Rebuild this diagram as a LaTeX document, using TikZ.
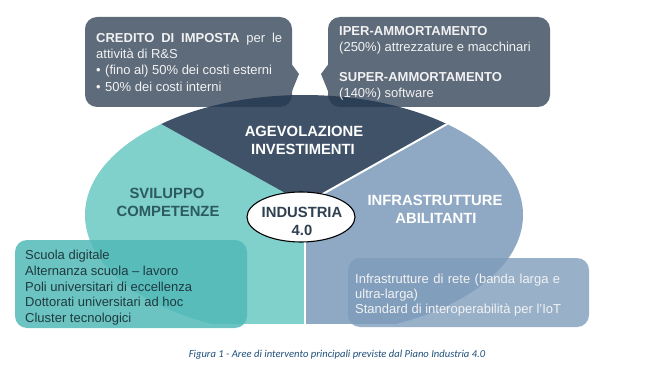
\documentclass[tikz,border=0pt]{standalone}
\usepackage{fontspec}
\setmainfont{Liberation Sans}
\newfontfamily\capfont{Carlito}
\usetikzlibrary{shapes.geometric}
\definecolor{tealS}{HTML}{80D0CC}
\definecolor{blueS}{HTML}{8FA9C4}
\definecolor{darkS}{HTML}{253A53}
\definecolor{calloutC}{HTML}{5E6B7B}
\definecolor{tealBox}{HTML}{52BAB7}
\definecolor{blueBox}{HTML}{7F9CBC}
\definecolor{tealTxt}{HTML}{2C5A61}
\definecolor{indTxt}{HTML}{2F4050}
\definecolor{boxTxt}{HTML}{1E3A40}
\definecolor{capC}{HTML}{1F4E79}
\tikzset{
  calloutbox/.style={fill=calloutC},
  body/.style={inner sep=0pt, anchor=base west, font=\fontsize{13}{15}\selectfont},
  whitetxt/.style={body, text=white!95!black},
  label/.style={inner sep=0pt, anchor=base, font=\fontsize{14.8}{17}\selectfont\bfseries},
  sep/.style={draw=white, line width=2pt}
}
\begin{document}
\begin{tikzpicture}[x=1pt,y=-1pt]
\useasboundingbox (0,0) rectangle (669,374);
% callouts
\fill[calloutbox, rounded corners=12pt] (85,17) rectangle (292,107);
\fill[calloutbox] (290,62) -- (299,74) -- (290,96) -- cycle;
\fill[calloutbox, rounded corners=12pt] (328,17) rectangle (550,107);
\fill[calloutbox] (330,62) -- (321,74) -- (330,96) -- cycle;
% big ellipse sectors
\begin{scope}
  \clip (304,215) ellipse [x radius=219, y radius=120];
  \clip (0,0) rectangle (669,323);
  \fill[tealS] (305,204) -- (23,47) -- (0,47) -- (0,400) -- (305,400) -- cycle;
  \fill[blueS] (305,204) -- (589,44) -- (700,44) -- (700,400) -- (305,400) -- cycle;
  \fill[darkS, fill opacity=0.88] (305,204) -- (23,47) -- (23,0) -- (600,0) -- (589,44) -- cycle;
  \coordinate (apex) at (305,204);
  \coordinate (rEnd) at (589,44);
  \coordinate (bEnd) at (305,400);
  \draw[sep] (apex) -- (rEnd);
  \draw[sep] (apex) -- (bEnd);
\end{scope}
% bottom boxes
\fill[tealBox, fill opacity=0.85, rounded corners=12pt] (15,240) rectangle (247,328);
\fill[blueBox, fill opacity=0.8, rounded corners=12pt] (348,258) rectangle (589,327);
% center ellipse
\node[ellipse, draw=black, line width=1.1pt, fill=white, minimum width=108pt, minimum height=50pt, inner sep=0pt] (ind) at (301,217) {};
\node[label, text=indTxt] (ind1) at (302,218) {INDUSTRIA};
\node[label, text=indTxt] (ind2) at (302,235) {4.0};
% sector labels
\node[label, text=white] (ag1) at (304,137) {AGEVOLAZIONE};
\node[label, text=white] (ag2) at (303,155) {INVESTIMENTI};
\node[label, text=tealTxt] (sv1) at (167,199) {SVILUPPO};
\node[label, text=tealTxt] (sv2) at (168,217) {COMPETENZE};
\node[label, text=white] (in1) at (435,206) {INFRASTRUTTURE};
\node[label, text=white] (in2) at (436,223) {ABILITANTI};
% left callout text
\node[whitetxt] (c1) at (96,43) {\makebox[186pt][s]{\textbf{CREDITO DI IMPOSTA} per le}};
\node[whitetxt] (c2) at (96,59) {attività di R\&S};
\node[whitetxt] (c3b) at (96,75) {•};
\node[whitetxt] (c3) at (105,75) {(fino al) 50\% dei costi esterni};
\node[whitetxt] (c4b) at (96,92) {•};
\node[whitetxt] (c4) at (105,92) {50\% dei costi interni};
% right callout text
\node[whitetxt] (r1) at (339,36) {\textbf{IPER-AMMORTAMENTO}};
\node[whitetxt] (r2) at (339,52) {(250\%) attrezzature e macchinari};
\node[whitetxt] (r3) at (339,82) {\textbf{SUPER-AMMORTAMENTO}};
\node[whitetxt] (r4) at (339,98) {(140\%) software};
% bottom-left box text
\node[body, text=boxTxt] (s1) at (25,259) {Scuola digitale};
\node[body, text=boxTxt] (s2) at (25,275) {Alternanza scuola – lavoro};
\node[body, text=boxTxt] (s3) at (25,291) {Poli universitari di eccellenza};
\node[body, text=boxTxt] (s4) at (25,306.5) {Dottorati universitari ad hoc};
\node[body, text=boxTxt] (s5) at (25,322) {Cluster tecnologici};
% bottom-right box text
\node[whitetxt] (i1) at (355,283) {\makebox[205pt][s]{Infrastrutture di rete (banda larga e}};
\node[whitetxt] (i2) at (355,298) {ultra-larga)};
\node[whitetxt] (i3) at (355,313) {Standard di interoperabilità per l'IoT};
% caption
\node[inner sep=0pt, anchor=base, text=capC, font=\capfont\itshape\fontsize{10.6}{12}\selectfont] (cap) at (337,357) {Figura 1 - Aree di intervento principali previste dal Piano Industria 4.0};
\end{tikzpicture}
\end{document}
